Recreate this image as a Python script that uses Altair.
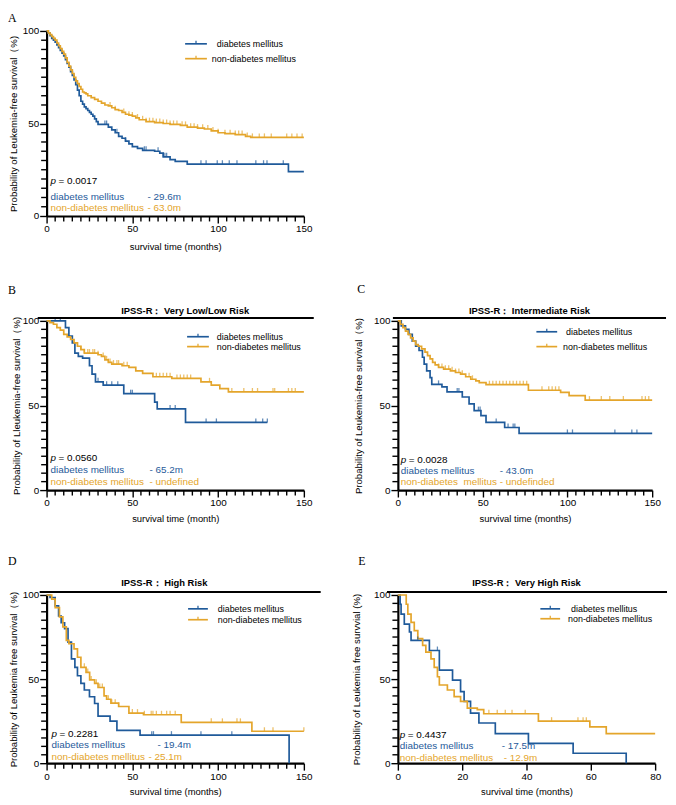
import altair as alt
import pandas as pd

BLUE = "#1f5a9a"
ORANGE = "#e4a52b"
FONT = "Liberation Sans"
SERIF = "Liberation Serif"
G_DM = "diabetes mellitus"
G_NON = "non-diabetes mellitus"

# ---------------- Panel A ----------------
A_dm_t = [0, 1, 2, 3, 4, 5, 6, 7, 8, 9, 10, 11, 12, 13, 14, 15, 16, 17, 18, 19, 20, 21, 22, 23, 24, 25, 26, 27, 28, 29, 30,
          36, 38, 40, 42, 44, 46, 48, 50, 53, 56, 63, 66, 68, 72, 75, 82, 141]
A_dm_s = [100, 99, 97.5, 96, 95, 94, 92.5, 91, 89.5, 88, 86.5, 84.5, 82.5, 80.5, 78, 76, 73.5, 71, 68, 65, 62, 60.5, 59, 58, 57, 56, 55, 54, 52.5, 51, 49.5,
          48, 46.5, 45, 43, 42, 40.5, 39, 37.5, 36.5, 35.5, 35, 34, 32, 30.5, 29.5, 28, 24]
A_dm_end = 150
A_dm_cens = [34, 35, 41, 46, 57, 58, 65, 68, 69, 70, 90, 93, 99.5, 102.5, 106.5, 111, 122, 126.5, 128.5, 138]
A_non_t = [0, 1, 2, 3, 4, 5, 6, 7, 8, 9, 10, 11, 12, 13, 14, 15, 16, 17, 18, 19, 20, 21, 22, 23, 24,
           26, 28, 30, 32, 34, 36, 38, 40, 42, 44, 46, 48, 50, 52, 54,
           58, 63, 68, 72, 78, 82, 88, 92, 96, 100, 104, 110, 116, 119]
A_non_s = [100, 99, 98, 97, 96, 95, 93.5, 92, 90.5, 89, 87.5, 85.5, 83, 81, 79, 77, 75, 73, 71.5, 70, 68.5, 67, 66.5, 66, 65,
           64, 63, 62, 61, 60, 59.5, 58.5, 57.5, 57, 56, 55, 54.5, 54, 53, 52,
           51, 50.5, 50, 49.5, 49, 48, 47.5, 47, 46, 45, 44.5, 44, 43, 42.5]
A_non_end = 150
A_non_cens = [37, 40, 45, 48, 50, 53, 56, 58, 60, 62, 64, 66, 68, 70, 72, 74, 76, 79, 81, 84, 86, 88, 91, 94, 97,
              100, 104, 107, 110, 112, 114, 117, 120, 124, 127, 131, 140, 143, 146, 149]

# ---------------- Panel B ----------------
B_dm_t = [0, 11, 13, 15, 16.5, 18.5, 21, 25, 26.5, 28.5, 33, 45, 63, 64.5, 81]
B_dm_s = [100, 96, 91, 87, 81, 79, 78, 73.5, 68.5, 64, 62, 57, 52, 48, 40]
B_dm_end = 128.7
B_dm_cens = [5, 8, 30, 35, 38, 41.5, 49, 50, 72, 75, 93, 99, 122, 126, 128.7]
B_non_t = [0, 2, 4, 6, 8, 10, 12, 14, 16, 18, 20, 22, 30, 32, 34, 36, 38, 44, 48, 52, 56, 62, 73, 90, 96, 101, 106]
B_non_s = [100, 99, 98, 96, 94.5, 92, 90.5, 89, 87, 85, 83, 81, 80, 79, 77, 75.5, 74.5, 73.5, 72.5, 70.5, 69, 67, 66, 64, 62, 60, 58]
B_non_end = 150
B_non_cens = [18, 20, 22, 24, 25, 27, 28, 30, 33, 35, 36, 37, 39, 41, 42, 45, 47, 64, 66, 68, 70, 72, 76, 78, 80, 82, 84,
              95, 108, 115, 120, 123, 132, 133, 141, 143, 145]

# ---------------- Panel C ----------------
C_dm_t = [0, 2, 4.5, 6.5, 8.5, 10.5, 12.5, 14.5, 15.5, 17, 19, 20, 26, 29, 38, 42, 45, 49, 52, 63, 71.5]
C_dm_s = [100, 97, 95, 92, 88, 85, 82.5, 78.5, 74.5, 70.5, 66.5, 62.5, 61, 58, 55, 51, 47, 44, 40, 37, 33.5]
C_dm_end = 150
C_dm_cens = [24, 35, 36, 47.5, 48.5, 58, 65, 68, 69, 100, 103, 128, 138, 141]
C_non_t = [0, 1.5, 3, 4.5, 6, 7.5, 9, 10.5, 12, 14, 16, 17.5, 19, 20.5, 22, 24, 27, 31, 34, 37,
           40, 43, 46, 48, 52, 77, 96, 101, 110.5]
C_non_s = [100, 98, 96, 94, 92, 90, 88, 86, 85, 83.5, 81.5, 79.5, 77.5, 75.5, 74, 72.5, 71.5, 70.5, 69.5, 68.5,
           67, 65.5, 64.5, 63.5, 62.3, 59, 57.8, 55.8, 53.2]
C_non_end = 150
C_non_cens = [24, 26, 28, 30, 32, 34, 36, 38, 42, 44, 54, 56, 58, 60, 62, 64, 66, 68, 70, 72, 74, 76,
              85, 89, 91, 93, 95, 113, 120, 125, 133, 144, 146, 148]

# ---------------- Panel D ----------------
D_dm_t = [0, 2, 5, 7, 8.5, 10.5, 12.5, 14.5, 16.5, 18, 20, 22, 25, 28, 30, 37, 41, 54.5, 141.4]
D_dm_s = [100, 98.5, 93.5, 87.5, 83.5, 80, 72, 62, 57, 52, 47.5, 43.5, 39.5, 35.5, 28, 25, 19.5, 16.7, 0]
D_dm_end = 141.4
D_dm_cens = [61.3, 62.3, 72.8, 90, 108]
D_non_t = [0, 3, 5, 7.5, 9.5, 11.5, 13, 16, 18, 20, 23, 25.1, 28, 30, 33.5, 35, 37.5, 42, 48, 56.5, 78.5, 119.7]
D_non_s = [100, 97.5, 92.5, 87, 81, 73, 71, 68, 63, 57, 54, 49.5, 47.5, 45, 40, 38, 35.7, 33.7, 29.8, 28.8, 24.3, 19]
D_non_end = 150
D_non_cens = [22, 24, 26, 29, 31, 32.5, 36, 38, 40, 42, 50, 53, 57, 61, 62, 64, 67, 70, 72, 75,
              96, 102.5, 111, 113, 127, 132, 150]

# ---------------- Panel E ----------------
E_dm_t = [0, 0.7, 1, 2, 3.6, 4.1, 9.8, 12.9, 17, 19.5, 20.6, 22.6, 25.2, 30.3, 40.6, 54.5, 71]
E_dm_s = [100, 94.5, 88.6, 82.7, 78, 73, 67, 55.3, 49.4, 42.5, 36.7, 29.8, 23.9, 17.6, 11.8, 5.9, 0]
E_dm_end = 71
E_dm_cens = [6.2, 12.3]
E_non_t = [0, 2.6, 3.1, 4.1, 5.1, 6.2, 7.7, 8.7, 10.3, 11.3, 12.3, 12.9, 15.4, 17.5, 19.5, 21.6, 24.7, 26.7, 43.7, 59.7, 64.8]
E_non_s = [100, 94.5, 88.6, 83.7, 78.8, 74, 70, 66, 62, 57, 51.4, 46.5, 43.5, 39.6, 36.7, 32.7, 31.8, 29.4, 25, 21.6, 17.6]
E_non_end = 80
E_non_cens = [28.3, 30.9, 33.4, 35.5, 39.6, 47.8, 56, 57.6, 58.6]

one = pd.DataFrame({"k": [0]})


def step_at(ts, ss, t):
    v = ss[0]
    for ti, si in zip(ts, ss):
        if ti <= t:
            v = si
    return v


def curve_rows(ts, ss, end, g):
    rows = [{"t": t, "s": s, "g": g} for t, s in zip(ts, ss)]
    if end > ts[-1]:
        rows.append({"t": end, "s": ss[-1], "g": g})
    return rows


def cens_rows(ts, ss, cs, g):
    return [{"t": c, "s": step_at(ts, ss, c), "g": g} for c in cs]


def txt(text, x, y, size=10, color="black", align="left", baseline="middle", font=FONT, **kw):
    return alt.Chart(one).mark_text(text=text, align=align, baseline=baseline, font=font,
                                    fontSize=size, color=color, **kw).encode(x=alt.value(x), y=alt.value(y))


def hrule(x1, x2, y, color="black", width=1.5):
    return alt.Chart(one).mark_rule(color=color, strokeWidth=width).encode(
        x=alt.value(x1), x2=alt.value(x2), y=alt.value(y))


def vrule(x, y1, y2, color="black", width=1.2):
    return alt.Chart(one).mark_rule(color=color, strokeWidth=width).encode(
        x=alt.value(x), y=alt.value(y1), y2=alt.value(y2))


def make_axis(values, title, title_pad, orient, title_size):
    return alt.Axis(values=values, tickSize=7,
                    tickWidth=1.4, tickColor="black", domainColor="black", domainWidth=2.2,
                    labelFont=FONT, labelFontSize=10, labelColor="black", labelPadding=1,
                    labelOverlap=False, labelFlush=False, grid=False,
                    title=title, titleFont=FONT, titleFontSize=title_size, titleFontWeight="normal",
                    titleColor="black", titlePadding=title_pad, orient=orient)


def panel(p):
    w, h = p["w"], p["h"]
    rows = curve_rows(p["dm_t"], p["dm_s"], p["dm_end"], G_DM) + curve_rows(p["non_t"], p["non_s"], p["non_end"], G_NON)
    cens = cens_rows(p["dm_t"], p["dm_s"], p["dm_c"], G_DM) + cens_rows(p["non_t"], p["non_s"], p["non_c"], G_NON)
    x = alt.X("t:Q", scale=alt.Scale(domain=[0, p["xmax"]], nice=False),
              axis=make_axis(list(range(0, p["xmax"] + 1, p["xmajor"])), p["xtitle"], p["xtpad"], "bottom", 9.5))
    y = alt.Y("s:Q", scale=alt.Scale(domain=[0, 100], nice=False),
              axis=make_axis([0, 50, 100], p["ytitle"], p["ytpad"], "left", 9.7))
    color = alt.Color("g:N", scale=alt.Scale(domain=[G_DM, G_NON], range=[BLUE, ORANGE]), legend=None)
    lines = alt.Chart(pd.DataFrame(rows)).mark_line(interpolate="step-after", strokeWidth=1.7).encode(
        x=x, y=y, color=color)
    ticks = alt.Chart(pd.DataFrame(cens)).mark_tick(orient="vertical", size=4, thickness=1.3, yOffset=-2).encode(
        x=x, y=y, color=color)
    layers = [lines, ticks]

    # minor axis ticks, drawn through the scales
    xminor = [v for v in range(0, p["xmax"] + 1, p["xminor"]) if v % p["xmajor"] != 0]
    if xminor:
        layers.append(alt.Chart(pd.DataFrame({"t": xminor})).mark_rule(color="black", strokeWidth=1.4).encode(
            x=x, y=alt.value(h), y2=alt.value(h + 5.5)))
    yminor = [v for v in range(0, 101, 5) if v % 50 != 0]
    layers.append(alt.Chart(pd.DataFrame({"s": yminor})).mark_rule(color="black", strokeWidth=1.4).encode(
        y=y, x=alt.value(0), x2=alt.value(-5.5)))

    # legend
    lx1, lx2, ly1, ly2, tdm, tnon = p["leg"]
    mid = (lx1 + lx2) / 2
    layers += [hrule(lx1, lx2, ly1, BLUE, 1.7), vrule(mid, ly1 - 3, ly1, BLUE),
               hrule(lx1, lx2, ly2, ORANGE, 1.7), vrule(mid, ly2 - 3, ly2, ORANGE),
               txt(G_DM, tdm, ly1, size=9), txt(G_NON, tnon, ly2, size=9)]

    # annotation
    a = p["ann"]
    x0 = a["x0"]
    layers += [txt("p", x0, h - a["py"], fontStyle="italic"),
               txt(a["pval"], x0 + 8, h - a["py"]),
               txt(G_DM, x0, h - a["dmy"], color=BLUE),
               txt(a["dmv"], a["dmx"], h - a["dmy"], color=BLUE),
               txt(a["nonlab"], x0, h - a["nony"], color=ORANGE)]
    if a.get("nonv"):
        layers.append(txt(a["nonv"], a["nonx"], h - a["nony"], color=ORANGE))

    # title
    if p.get("title"):
        ttext, tcx, ty, lx_a, lx_b, lyy = p["title"]
        layers += [txt(ttext, tcx, ty, size=9.5, align="center", fontWeight="bold"),
                   hrule(lx_a, w + lx_b, lyy, "black", 2)]

    # panel letter
    let, lx, lyy2 = p["letter"]
    layers.append(txt(let, lx, lyy2, size=12, font=SERIF))

    return alt.layer(*layers).properties(width=w, height=h)


pA = dict(w=260, h=187, xmax=150, xmajor=50, xminor=5, xtitle="survival time (months)", xtpad=8,
          ytitle="Probability of Leukemia-free survival（%)", ytpad=4,
          dm_t=A_dm_t, dm_s=A_dm_s, dm_end=A_dm_end, dm_c=A_dm_cens,
          non_t=A_non_t, non_s=A_non_s, non_end=A_non_end, non_c=A_non_cens,
          leg=(140, 162, 13, 28, 172, 167),
          ann=dict(x0=4, py=35, dmy=19, nony=8, pval="= 0.0017", dmv="- 29.6m", dmx=102,
                   nonlab=G_NON, nonv="- 63.0m", nonx=102),
          title=None, letter=("A", -39, -13))

pB = dict(w=260, h=171, xmax=150, xmajor=50, xminor=5, xtitle="survival time (month)", xtpad=6,
          ytitle="Probability of Lleukemia-free survival（%)", ytpad=1,
          dm_t=B_dm_t, dm_s=B_dm_s, dm_end=B_dm_end, dm_c=B_dm_cens,
          non_t=B_non_t, non_s=B_non_s, non_end=B_non_end, non_c=B_non_cens,
          leg=(142, 164, 16, 26, 172, 172),
          ann=dict(x0=4, py=32, dmy=20, nony=8, pval="= 0.0560", dmv="- 65.2m", dmx=104,
                   nonlab=G_NON, nonv="- undefined", nonx=104),
          title=("IPSS-R：\u00a0Very Low/Low Risk", 140, -10, -9, 10, -3), letter=("B", -39, -31))

pC = dict(w=257, h=171, xmax=150, xmajor=50, xminor=5, xtitle="survival time (months)", xtpad=6,
          ytitle="Probability of Leukemia-free survival（%)", ytpad=10,
          dm_t=C_dm_t, dm_s=C_dm_s, dm_end=C_dm_end, dm_c=C_dm_cens,
          non_t=C_non_t, non_s=C_non_s, non_end=C_non_end, non_c=C_non_cens,
          leg=(140, 161, 11, 26, 170, 167),
          ann=dict(x0=3, py=30, dmy=19, nony=8, pval="= 0.0028", dmv="- 43.0m", dmx=103,
                   nonlab="non-diabetes\u00a0\u00a0mellitus - undefinded", nonv=None, nonx=0),
          title=("IPSS-R：\u00a0Intermediate Risk", 133, -10, -5, 14, -3), letter=("C", -41, -32))

pD = dict(w=260, h=170, xmax=150, xmajor=50, xminor=5, xtitle="survival time (months)", xtpad=6,
          ytitle="Probability of Leukemia free survival（%)", ytpad=4,
          dm_t=D_dm_t, dm_s=D_dm_s, dm_end=D_dm_end, dm_c=D_dm_cens,
          non_t=D_non_t, non_s=D_non_s, non_end=D_non_end, non_c=D_non_cens,
          leg=(143, 163, 14, 25, 173, 173),
          ann=dict(x0=5, py=29, dmy=18, nony=6, pval="= 0.2281", dmv="- 19.4m", dmx=112,
                   nonlab=G_NON, nonv="- 25.1m", nonx=103),
          title=("IPSS-R：\u00a0High Risk", 119, -12, -7, 17, -3), letter=("D", -39, -34))

pE = dict(w=260, h=170, xmax=80, xmajor=20, xminor=20, xtitle="survival time (months)", xtpad=6,
          ytitle="Probability of Leukemia free survvial (%)", ytpad=12,
          dm_t=E_dm_t, dm_s=E_dm_s, dm_end=E_dm_end, dm_c=E_dm_cens,
          non_t=E_non_t, non_s=E_non_s, non_end=E_non_end, non_c=E_non_cens,
          leg=(144, 164, 14, 24, 175, 172),
          ann=dict(x0=2, py=28, dmy=17, nony=5, pval="= 0.4437", dmv="- 17.5m", dmx=105,
                   nonlab=G_NON, nonv="- 12.9m", nonx=107),
          title=("IPSS-R：\u00a0Very High Risk", 130, -12, -11, 12, -3), letter=("E", -40, -34))

spacer = alt.Chart(one).mark_point(opacity=0).encode(x=alt.value(0), y=alt.value(0)).properties(width=257, height=10)

chart = alt.concat(panel(pA), spacer, panel(pB), panel(pC), panel(pD), panel(pE),
                   columns=2, spacing={"row": 106, "column": 95}, bounds="flush").properties(
    padding=0, background="white").configure_view(strokeWidth=0)

chart.save("out.html", embed_options={"renderer": "svg", "actions": False})
